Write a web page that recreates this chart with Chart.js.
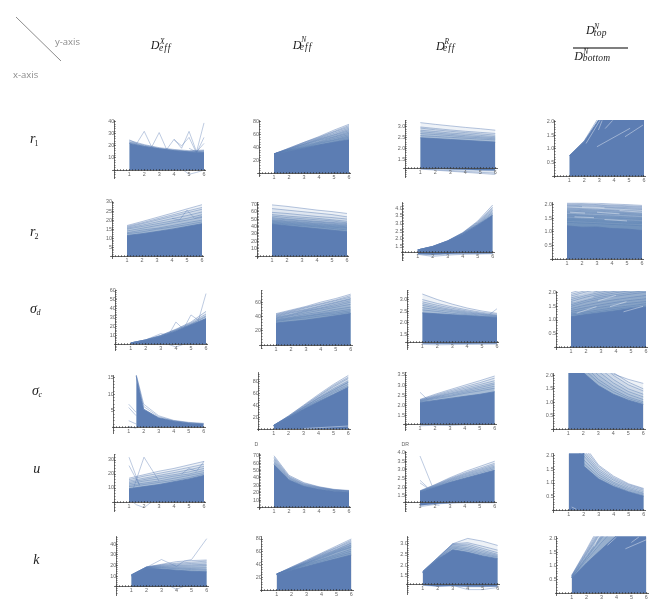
<!DOCTYPE html>
<html><head><meta charset="utf-8">
<script src="https://cdn.jsdelivr.net/npm/chart.js@4"></script>
<style>
html,body{margin:0;padding:0;background:#fff;width:664px;height:610px;overflow:hidden}
canvas{position:absolute;filter:blur(.3px)}
#labels{position:absolute;left:0;top:0;width:664px;height:610px;filter:blur(.25px)}
.t{position:absolute;white-space:nowrap;line-height:1;color:#1c1c1c;font-family:"Liberation Serif",serif;font-style:italic}
.g{position:absolute;white-space:nowrap;line-height:1;color:#8a8a8a;font-family:"Open Sans",sans-serif;font-size:9.5px}
.s{position:absolute;white-space:nowrap;line-height:1;color:#666;font-family:"Liberation Sans",sans-serif;font-size:5.2px}
</style></head><body>
<svg width="664" height="610" style="position:absolute;left:0;top:0">
<line x1="16" y1="17" x2="61" y2="61" stroke="#8c8c8c" stroke-width="1"/>
<line x1="573" y1="48" x2="628" y2="48" stroke="#555" stroke-width="1.4"/>
</svg>
<div id="labels"></div>
<script>
const xs=[1,2,3,4,5,6];
const rowNames=[['r','1'],['r','2'],['σ','d'],['σ','c'],['u',''],['k','']];
const colHeads=[['X','eff'],['N','eff'],['R','eff']];

// r1
const r1_DX_top=[22,19.5,17.5,16,15,14.5];
const r1_DX_lines=[[24.5,21,18.5,17,16,16.5],[23.5,20.5,18,16.5,15.5,16],[23,20,17.5,16,15,15.5],[22.5,19.5,17.5,16,15,15]];
const r1_DX_out=[[[1,25],[1.5,22],[2,32],[2.5,19],[3,31],[3.5,17],[4,25.5],[4.5,18],[5,32],[5.5,15],[6,39]],[[4,25],[4.5,20],[5,27],[5.5,14],[6,27]],[[5,18],[5.5,15],[6,22]],[[4.5,1],[5,-3.5],[5.5,-2],[6,0]]];
const r1_DN_top=[29,34,39,44,48,52];
const r1_DN_lines=[[30,39,48,57,67,76],[30,39,48,56,65,74],[30,38,47,55,64,72],[30,38,46,54,62,70],[30,38,45,53,60,68],[30,37,45,52,59,66],[30,37,44,51,57,64],[30,36,43,49,56,62],[30,36,42,48,54,60],[30,36,41,47,52,58],[30,35,40,46,51,56],[30,35,40,44,49,54]];
const r1_DR_top=[2.5,2.46,2.42,2.38,2.34,2.3];
const r1_DR_lines=[[3.2,3.12,3.05,2.98,2.92,2.85],[3,2.93,2.86,2.8,2.75,2.7],[2.95,2.87,2.8,2.74,2.68,2.62],[2.85,2.79,2.72,2.67,2.61,2.55],[2.78,2.72,2.66,2.6,2.55,2.5],[2.7,2.65,2.6,2.54,2.5,2.45],[2.6,2.56,2.52,2.48,2.44,2.4]];
const r1_DR_under=[[1.05,1,.95,.9,.85,.8],[1.06,1.02,.98,.94,.9,.86],[1.08,1.06,1.04,1.02,1,.98]];
const r1_DD_top=[.75,1.28,2.1,2.9,3.6,4.3];
const r1_DD_lines=[[.75,1.3,2.2,3.1,3.9,4.6]];
const r1_DD_gap=[[[2.12,1.2],[3.06,2.06]],[[2.85,1.08],[5.07,1.76]],[[4.73,1.45],[5.93,1.88]],[[3.4,1.75],[3.9,2.05]],[[2.95,1.7],[3.2,2.05]]];

// r2
const r2_DX_top=[11.5,12.5,13.7,15,16.5,18];
const r2_DX_lines=[[17,19.2,21.5,23.8,26.2,28.5],[16.5,18.5,20.7,22.8,25,27],[16,18,20,22,24,26],[15.5,17.2,19,20.8,22.5,24.5],[15,16.5,18,19.5,21,23],[14,15.5,17,18.5,20,21.5],[13,14.5,15.5,17,18.5,20],[12.5,13.5,15,16.2,17.5,19]];
const r2_DX_out=[[[4,21],[4.5,20],[5,25.5],[5.5,21],[6,22]]];
const r2_DN_top=[43,41,39,37,35,33];
const r2_DN_lines=[[69,67,64.5,62,60,57.5],[64,62,60,58,56,53],[59,57.5,55.5,53.5,52,50],[56,54,52.5,51,49,47],[54,52,50.5,49,47.5,45],[52,50,48.5,47,45.5,44],[50.5,49,47.5,46,44.5,42.5],[49,47.5,46,44.5,43,41.5],[48,46.5,45,43.5,42,40.5],[47,45.5,44,42.5,41,39.5],[46,44.5,43,41.5,40,38.5],[45,43.5,42,40.5,39,37.5],[44,42.5,41,39.5,37.5,35.5]];
const r2_DR_top=[1.27,1.47,1.83,2.3,2.9,3.55];
const r2_DR_lines=[[1.27,1.5,1.87,2.4,3.15,4.2],[1.27,1.5,1.86,2.38,3.1,4.05],[1.27,1.5,1.86,2.37,3.05,3.95],[1.27,1.5,1.85,2.35,3,3.85],[1.27,1.49,1.85,2.33,2.95,3.75],[1.27,1.48,1.84,2.32,2.92,3.65]];
const r2_DR_under=[[.98,.85,.93,.98,1,1.02],[1,.95,1,1.03,1.03,1.05]];
const r2_DD_top=[1.22,1.17,1.18,1.12,1.1,1.05];
const r2_DD_lines=[[2.1,2.08,2.05,2.02,2,1.97],[2.02,2,1.98,1.95,1.93,1.9],[1.95,1.93,1.9,1.88,1.85,1.82],[1.88,1.85,1.83,1.8,1.78,1.75],[1.8,1.78,1.76,1.73,1.7,1.68],[1.72,1.7,1.68,1.65,1.63,1.6],[1.65,1.62,1.6,1.58,1.55,1.52],[1.58,1.55,1.52,1.5,1.48,1.45],[1.5,1.47,1.45,1.42,1.4,1.37],[1.42,1.4,1.37,1.35,1.32,1.3],[1.35,1.32,1.3,1.27,1.25,1.22],[2.06,2.04,2,1.98,1.96,1.93],[1.98,1.96,1.94,1.91,1.89,1.86],[1.84,1.82,1.79,1.77,1.74,1.72],[1.76,1.74,1.72,1.69,1.67,1.64],[1.62,1.59,1.56,1.54,1.51,1.49],[1.46,1.44,1.41,1.39,1.36,1.34]];
const r2_DD_gap=[[[1.2,1.72],[2.2,1.69]],[[3,1.72],[4.5,1.66]],[[4.5,1.78],[6,1.72]],[[2,1.92],[3.5,1.88]],[[3.5,1.45],[5,1.4]],[[1.5,1.55],[2.8,1.52]]];

// sigma d
const sd_DX_top=[1.5,4.5,9,15,22,29];
const sd_DX_lines=[[1.5,5,10,17,25,37],[1.5,5,10,16.5,24,34],[1.5,5,9.5,16,23,32],[1.5,4.8,9.3,15.5,22.5,31]];
const sd_DX_out=[[[1,1.5],[2,5],[3,12],[3.5,10],[4,25],[4.5,17],[5,33],[5.5,27],[6,57]],[[3,8],[3.5,0],[4,-3],[4.5,0]]];
const sd_DN_top=[31,33,35,38,41,44];
const sd_DN_lines=[[44,49,54,60,65,71],[43,48,53,58,63,69],[42,47,52,57,62,67],[41,46,50,55,60,65],[40,45,49,54,59,64],[39,43,48,52,57,62],[38,42,47,51,55,60],[37,41,45,49,53,57],[36,39,43,46,50,53],[35,38,41,44,47,50],[34,37,40,43,45,48],[33,36,38,41,43,46]];
const sd_DR_top=[2.42,2.38,2.34,2.3,2.26,2.22];
const sd_DR_lines=[[3.24,3,2.8,2.63,2.5,2.4],[3,2.83,2.68,2.55,2.44,2.36],[2.9,2.75,2.62,2.5,2.4,2.32],[2.82,2.68,2.56,2.46,2.37,2.3],[2.75,2.62,2.52,2.42,2.35,2.28],[2.65,2.55,2.47,2.38,2.32,2.26],[2.55,2.48,2.4,2.34,2.28,2.24]];
const sd_DR_out=[[[5.5,2.35],[6,2.6]]];
const sd_DR_under=[[1.05,1.03,1.04,1.05,1.05,1.06],[1.09,1.08,1.08,1.08,1.09,1.09]];
const sd_DD_top=[1.12,1.2,1.27,1.34,1.42,1.48];
const sd_DD_lines=[[2,2.15,2.28,2.4,2.5,2.6],[1.88,2.03,2.15,2.25,2.34,2.42],[1.75,1.9,2.02,2.12,2.2,2.28],[1.62,1.78,1.9,2,2.08,2.15],[1.5,1.66,1.78,1.87,1.95,2.02],[1.42,1.55,1.66,1.75,1.83,1.9],[1.35,1.46,1.56,1.65,1.72,1.78],[1.28,1.38,1.47,1.55,1.62,1.68],[1.22,1.3,1.38,1.46,1.52,1.6],[1.18,1.25,1.32,1.4,1.46,1.52],[1.94,2.08,2.2,2.32,2.42,2.5],[1.81,1.96,2.08,2.18,2.27,2.35],[1.68,1.84,1.96,2.06,2.14,2.22],[1.56,1.72,1.84,1.93,2.01,2.08]];
const sd_DD_gap=[[[3.6,1.49],[4.7,1.67]],[[1.38,1.25],[2.7,1.49]],[[1.1,1.65],[2.5,1.85]],[[2.8,1.7],[4,1.9]],[[4.5,1.3],[5.8,1.5]],[[1.5,1.9],[2.5,2.02]]];

// sigma c
const sc_DX_top=[[1.5,15.5],[2,5.5],[3,2.9],[4,1.9],[5,1.3],[6,1]];
const sc_DX_out=[[[1.5,16],[2,7],[3,3.5],[4,2.1],[5,1.5],[6,1.2]],[[1.5,15.8],[2,6.3],[3,3.2],[4,2],[5,1.4],[6,1.1]],[[1,7],[1.5,4.5]],[[1,6],[1.5,3.5]],[[1,2],[1.5,1]],[[1,.3],[1.5,-.3]]];
const sc_DN_top=[5.5,19,33,46,58,70];
const sc_DN_lines=[[6,22,40,58,75,90],[6,22,39,56,73,87],[6,21,38,55,71,85],[6,21,37,53,68,81],[6,20,36,52,66,79],[6,20,36,51,65,78],[6,20,35,49,63,75],[6,19,34,48,61,72]];
const sc_DN_gap=[[[3,.8],[6,5]]];
const sc_DR_top=[2.15,2.25,2.35,2.45,2.55,2.68];
const sc_DR_lines=[[2.3,2.55,2.78,3,3.22,3.45],[2.28,2.5,2.72,2.92,3.12,3.35],[2.26,2.46,2.66,2.85,3.03,3.22],[2.24,2.43,2.6,2.78,2.95,3.12],[2.22,2.4,2.56,2.72,2.88,3.05],[2.2,2.37,2.5,2.66,2.8,2.95],[2.18,2.33,2.45,2.6,2.72,2.85]];
const sc_DR_out=[[[1,2.65],[1.5,2.3]]];
const sc_DR_under=[[1,1.03,1.02,1.05,1.06,1.07],[1.05,1.07,1.07,1.08,1.08,1.09]];
const sc_DD_top=[3,2.1,1.62,1.3,1.08,.92];
const sc_DD_lines=[[4.6,3.5,2.6,2.05,1.85,1.7],[5,3.5,2.7,2.1,1.75,1.5],[4.5,3.3,2.5,2,1.65,1.42],[4,3,2.3,1.85,1.5,1.3],[3.7,2.8,2.15,1.72,1.4,1.2],[3.4,2.6,2,1.6,1.3,1.1],[3.2,2.4,1.85,1.48,1.2,1.02],[3.1,2.25,1.75,1.4,1.14,.97]];

// u
const u_DX_top=[9.5,11,12.5,14.5,16.5,19];
const u_DX_lines=[[17,19.5,22,24,26.5,29],[16,18.5,20.5,22.5,24.7,27],[15,17,19,21,23,25.5],[14,16,18,19.5,21.5,24],[13,15,16.5,18.5,20,22.5],[12,13.5,15,17,19,21],[11,12.5,14,15.5,17.5,20]];
const u_DX_out=[[[1,32],[1.7,12]],[[1,26],[1.7,12]],[[1.3,10],[2,32],[3,15]],[[4.5,20],[5,24],[5.5,22],[6,29]],[[1,2],[1.5,-2],[2,-4],[2.5,0]]];
const u_DN_top=[58,37,28.5,24.5,22,20.5];
const u_DN_lines=[[70,43.5,33.5,28,24.5,23],[68,42,32.5,27.5,24,22.5],[66,41,31.5,27,23.7,22.2],[64,40,31,26.5,23.4,22],[62,39,30,26,23,21.7],[60,38,29.5,25.5,22.7,21.3]];
const u_DR_top=[1.72,2,2.28,2.52,2.75,2.98];
const u_DR_lines=[[1.8,2.15,2.55,2.9,3.2,3.5],[1.78,2.13,2.5,2.82,3.1,3.38],[1.77,2.1,2.46,2.77,3.03,3.3],[1.76,2.08,2.42,2.72,2.97,3.22],[1.75,2.05,2.38,2.66,2.9,3.15],[1.74,2.03,2.34,2.6,2.83,3.07]];
const u_DR_out=[[[1,3.8],[1.8,2.1]],[[1,2.4],[1.5,2]],[[1,2.25],[1.5,1.95]],[[1,.88],[2,1],[2.3,.95]]];
const u_DR_under=[[.95,1.03,1.08,1.1,1.1,1.1]];
const u_DD_top=[[1,3],[1.98,3],[2,1.62],[3,1.15],[4,.87],[5,.67],[6,.52]];
const u_DD_lines=[[3,2.4,1.65,1.25,.97,.8],[3,2.3,1.6,1.2,.94,.77],[3,2.2,1.52,1.15,.9,.73],[3,2.1,1.45,1.1,.85,.68],[3,2,1.38,1.03,.8,.63],[3,1.85,1.3,.98,.75,.6],[3,1.72,1.22,.92,.7,.56]];
const u_DD_gap=[[[1.2,.12],[1.5,.04]]];

// k
const k_DX_top=[10,17.5,16.5,15.5,14.5,14];
const k_DX_lines=[[11,18.5,21,23.5,24.5,25],[11,18.5,20.5,22,23,24],[11,18.3,20,21,21.8,22.5],[11,18.2,19.5,20,20.5,21],[11,18,19,19.2,19.5,19.8],[10.8,18,18.5,18.3,18.3,18.2],[10.7,17.8,18,17.5,17,16.5],[10.5,17.7,17.5,16.8,16,15.5]];
const k_DX_out=[[[2,18],[3,25.5],[4,19],[4.5,24],[5,25.5],[6,45]],[[3.5,1],[4,-2.5],[4.5,.5]]];
const k_DN_top=[24,31,37,43,49,55];
const k_DN_lines=[[25,36,47,58,69,80],[25,36,46,57,67,78],[25,35,45,56,66,76],[25,35,45,55,64,74],[25,34,44,54,63,73],[25,34,43,53,62,71],[25,34,43,52,61,70],[25,33,42,51,60,68],[25,33,42,50,59,67],[25,33,41,48,56,64],[25,32,40,47,54,61],[25,32,39,45,52,58]];
const k_DR_top=[1.65,2.27,2.72,2.6,2.43,2.3];
const k_DR_lines=[[1.7,2.35,3,3.25,3.12,2.92],[1.7,2.35,3,3.05,2.88,2.7],[1.7,2.33,2.97,2.98,2.78,2.58],[1.69,2.32,2.95,2.9,2.7,2.5],[1.68,2.3,2.9,2.82,2.63,2.45],[1.67,2.29,2.85,2.75,2.56,2.4],[1.66,2.28,2.8,2.68,2.5,2.36]];
const k_DR_out=[[[3,1.05],[4,.85],[5,.85],[6,.95]]];
const k_DR_under=[[1.05,1,1.02,.98,.98,1]];
const k_DD_top=[.55,1.1,1.6,2.1,2.6,3.1];
const k_DD_lines=[[.65,1.6,2.6,3.5,4.3,5],[.64,1.55,2.5,3.4,4.15,4.85],[.62,1.5,2.4,3.3,4,4.7],[.61,1.46,2.32,3.15,3.85,4.55],[.6,1.42,2.25,3,3.7,4.4],[.58,1.35,2.1,2.85,3.5,4.1],[.57,1.31,2.05,2.77,3.4,4],[.56,1.28,2,2.7,3.3,3.9],[.56,1.22,1.85,2.45,3,3.5]];
const k_DD_gap=[[[4.6,1.62],[6,1.95]],[[3.4,1.75],[4,2.05]],[[2.5,1.7],[2.8,2.05]],[[5,1.85],[5.5,2.05]]];

const panelData=[
 {top:r1_DX_top,lines:r1_DX_lines,out:r1_DX_out},{top:r1_DN_top,lines:r1_DN_lines},{top:r1_DR_top,lines:r1_DR_lines,under:r1_DR_under},{top:r1_DD_top,lines:r1_DD_lines,gap:r1_DD_gap},
 {top:r2_DX_top,lines:r2_DX_lines,out:r2_DX_out},{top:r2_DN_top,lines:r2_DN_lines},{top:r2_DR_top,lines:r2_DR_lines,under:r2_DR_under},{top:r2_DD_top,lines:r2_DD_lines,gap:r2_DD_gap},
 {top:sd_DX_top,lines:sd_DX_lines,out:sd_DX_out},{top:sd_DN_top,lines:sd_DN_lines},{top:sd_DR_top,lines:sd_DR_lines,out:sd_DR_out,under:sd_DR_under},{top:sd_DD_top,lines:sd_DD_lines,gap:sd_DD_gap},
 {pairs:sc_DX_top,out:sc_DX_out},{top:sc_DN_top,lines:sc_DN_lines,gap:sc_DN_gap},{top:sc_DR_top,lines:sc_DR_lines,out:sc_DR_out,under:sc_DR_under},{top:sc_DD_top,lines:sc_DD_lines},
 {top:u_DX_top,lines:u_DX_lines,out:u_DX_out},{top:u_DN_top,lines:u_DN_lines},{top:u_DR_top,lines:u_DR_lines,out:u_DR_out,under:u_DR_under},{pairs:u_DD_top,lines:u_DD_lines,gap:u_DD_gap},
 {top:k_DX_top,lines:k_DX_lines,out:k_DX_out},{top:k_DN_top,lines:k_DN_lines},{top:k_DR_top,lines:k_DR_lines,out:k_DR_out,under:k_DR_under},{top:k_DD_top,lines:k_DD_lines,gap:k_DD_gap}
];
// frame: px of x=1, px of x=6, px of axis, value at axis, px per unit, top px, bottom px, major, minor, decimals
const frames=[
[129.3,204,170,0,1.2075,120,178,10,2,0],[274,349,173.3,0,.645,120,176,20,4,0],[420.3,495.3,168,1.1,21.6,120,177.3,.5,.1,1],[569.3,644,176,0,27.1,120,177.5,.5,.1,1],
[127,202,256.3,0,1.81,201,258,5,1,0],[272,347,256.3,0,.745,202.5,258,10,2,0],[417.7,492.7,252.7,1.09,15.33,202.5,260.7,.5,.1,1],[567,642,259,0,27.2,202.7,260.5,.5,.1,1],
[130.7,206,344.3,0,.89,290,350,10,2,0],[276,350.7,345.3,0,.72,290,348.7,20,4,0],[422.3,497,342.3,1.14,23,290,349,.5,.1,1],[571,646,347.3,0,27.3,291,349,.5,.1,1],
[128.7,203.7,427.3,0,3.3,375,433,5,1,0],[273.7,348.3,429,0,.595,372.3,430.5,20,4,0],[420,494.7,424,1.09,20.33,372.3,430,.5,.1,1],[568.3,643.3,429.3,0,27,373,431,.5,.1,1],
[129,204,502,0,1.4,454.3,511.7,10,2,0],[274,349,507.4,0,.738,453,509,10,2,0],[420,494.7,502.3,1.13,17.33,451,511.7,.5,.1,1],[568.7,643.7,510.3,0,27.3,453.3,512,.5,.1,1],
[131.3,206.7,586.7,0,1.067,536.7,595,10,2,0],[276.7,351.3,590,0,.6375,536.7,591.7,20,4,0],[422.7,497.7,584.7,1.08,21.33,536.7,594.3,.5,.1,1],[571.7,646.3,593,0,27.3,536.3,595,.5,.1,1]
];

const BLUE='rgb(92,125,179)';
const LINE='rgba(92,125,179,.5)';
const WASH='rgba(92,125,179,.1)';
const near=(a,b)=>Math.abs(a-b)<1e-6;
const isMajor=(v,m)=>near(v/m,Math.round(v/m));
const pts=a=>a.map((y,i)=>({x:xs[i],y}));
const prs=a=>a.map(p=>({x:p[0],y:p[1]}));
const tickFont={size:5.4,family:'"Liberation Sans",sans-serif'};

panelData.forEach((p,idx)=>{
 const [x1,x6,ay,av,pu,ty,by,maj,mnr,dec]=frames[idx];
 const u=(x6-x1)/5, x0=x1-u;
 const cl=Math.floor(x0-24), ct=Math.floor(ty-10), cw=Math.min(664-cl,Math.ceil(x6+14-cl)), ch=Math.min(610-ct,Math.ceil(by+14-ct));
 const c=document.createElement('canvas');
 c.width=cw;c.height=ch;c.style.left=cl+'px';c.style.top=ct+'px';c.style.width=cw+'px';c.style.height=ch+'px';
 document.body.appendChild(c);
 const xMin=-.1,xMax=6.12;
 const ds=[];
 const base={pointRadius:0,tension:0,borderJoinStyle:'round'};
 (p.gap||[]).forEach(g=>ds.push({...base,data:prs(g),borderColor:'rgba(255,255,255,.45)',borderWidth:.9,fill:false}));
 if(p.top) ds.push({...base,data:pts(p.top),borderColor:BLUE,borderWidth:.8,backgroundColor:BLUE,fill:{value:av}});
 if(p.pairs) ds.push({...base,data:prs(p.pairs),borderColor:BLUE,borderWidth:.8,backgroundColor:BLUE,fill:{value:av}});
 (p.under||[]).forEach((g,i,arr)=>ds.push({...base,data:pts(g),borderColor:LINE,borderWidth:.8,backgroundColor:i==arr.length-1?BLUE:WASH,fill:{value:av}}));
 (p.lines||[]).forEach(g=>ds.push({...base,data:pts(g),borderColor:LINE,borderWidth:.9,backgroundColor:WASH,fill:{value:av}}));
 (p.out||[]).forEach(g=>ds.push({...base,data:prs(g),borderColor:LINE,borderWidth:.8,fill:false}));
 new Chart(c,{type:'line',data:{datasets:ds},options:{
  responsive:false,animation:false,events:[],
  layout:{padding:{left:x0+xMin*u-cl,right:cl+cw-(x0+xMax*u),top:ty-ct,bottom:ct+ch-by}},
  plugins:{legend:{display:false},tooltip:{enabled:false}},
  scales:{
   x:{type:'linear',min:xMin,max:xMax,position:{y:av},afterFit:s=>{s.height=0},
    border:{color:'#444',width:.8,z:1},
    grid:{drawOnChartArea:false,drawTicks:true,tickLength:-1.5,z:1,tickColor:'#222',tickWidth:c=>isMajor(c.tick.value,1)?1.2:.8},
    ticks:{stepSize:.2,autoSkip:false,maxRotation:0,includeBounds:false,padding:2.5,color:'#666',z:1,font:tickFont,
     callback:v=>(isMajor(v,1)&&v>=1)?String(Math.round(v)):''}},
   y:{type:'linear',min:av-(by-ay)/pu,max:av+(ay-ty)/pu,position:{x:0},afterFit:s=>{s.width=0},
    border:{color:'#444',width:.8,z:1},
    grid:{drawOnChartArea:false,drawTicks:true,tickLength:-1.5,z:1,tickColor:'#333',tickWidth:c=>isMajor(c.tick.value,maj)?1:.6},
    ticks:{stepSize:mnr,autoSkip:false,includeBounds:false,padding:6,color:'#666',z:1,font:tickFont,
     callback:v=>(isMajor(v,maj)&&v>av+1e-6)?v.toFixed(dec):''}}
  }}});
});

// headers and row labels as real text, placed by baseline
const L=document.getElementById('labels');
function put(cls,txt,x,b,size,extra){const d=document.createElement('div');d.className=cls;d.textContent=txt;d.style.left=x+'px';d.style.top=(b-.838*size)+'px';d.style.fontSize=size+'px';if(extra)d.style.cssText+=extra;L.appendChild(d);}
put('g','y-axis',55,44.5,9.5);put('g','x-axis',13,77.5,9.5);
function head(dx,db,supx,supb,subx,subb,sup,sub,ls){put('t','D',dx,db,12);put('t',sup,supx,supb,7.5);put('t',sub,subx,subb,9.5,'letter-spacing:'+ls+'px');}
head(150.7,49.3,160,44,159,51.7,colHeads[0][0],colHeads[0][1],1);
head(292.7,48.7,301.3,42.4,299.8,50.7,colHeads[1][0],colHeads[1][1],1);
head(436,50,444.5,44.7,443,52.4,colHeads[2][0],colHeads[2][1],1);
head(586,34.3,594,29,593.7,36.7,'N','top',.3);
head(574.3,60,583.3,54,582.7,62.4,'N','bottom',.2);
const rowAt=[[30,144,34.5,146.7],[30,237,34.5,239.7],[30,313.7,36.5,315.7],[32,395.7,38.5,398],[33.3,474],[33.3,564.3]];
rowNames.forEach((r,i)=>{const q=rowAt[i];put('t',r[0],q[0],q[1],14);if(r[1])put('t',r[1],q[2],q[3],8,'font-style:'+(i<2?'normal':'italic'));});
put('s','D',254.5,446,5.2);put('s','DR',401.5,446,5.2);
</script>
</body></html>
